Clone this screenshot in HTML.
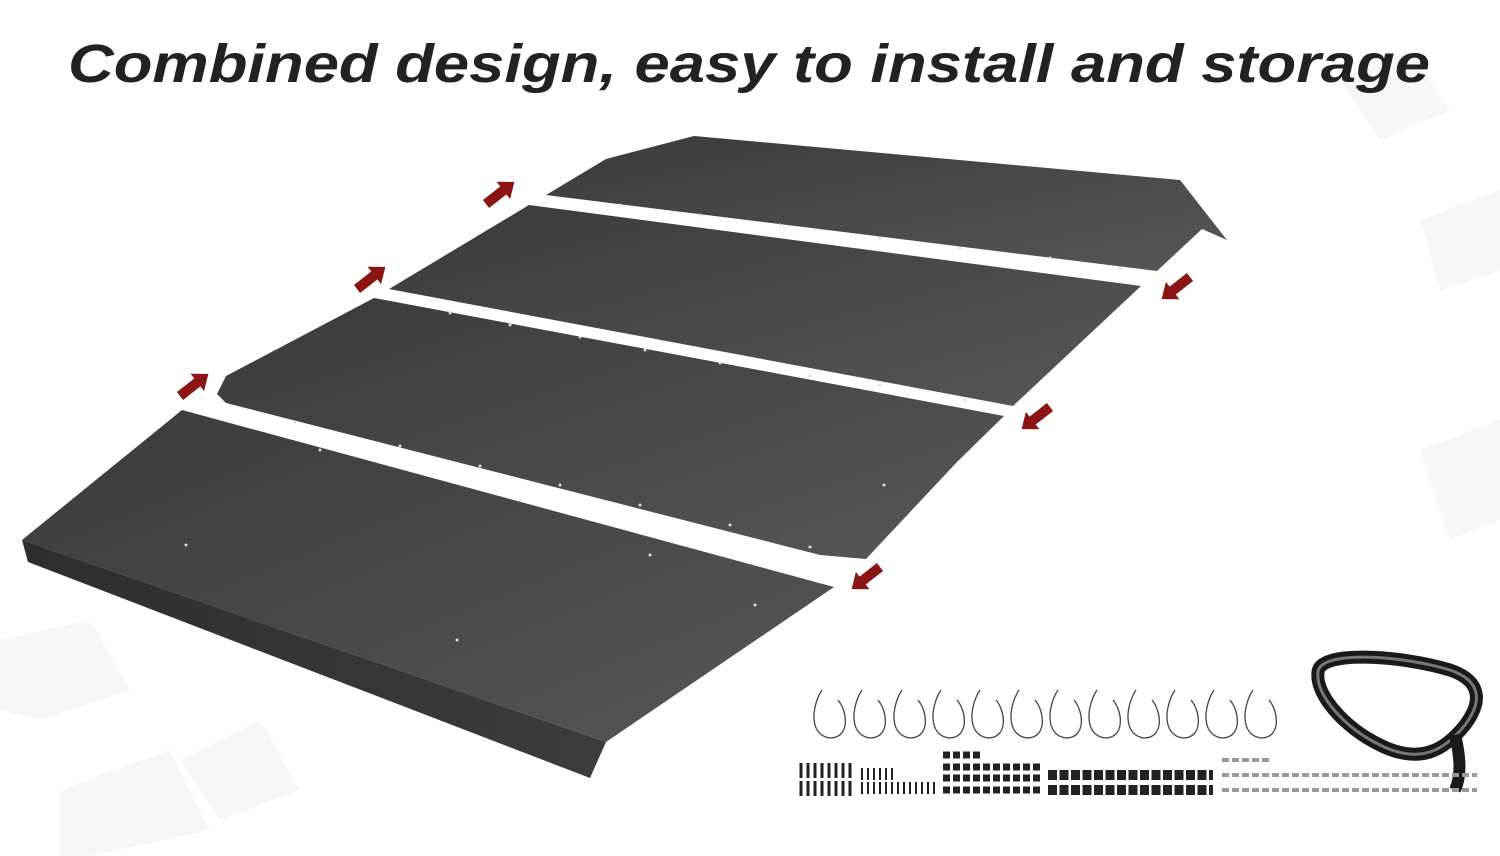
<!DOCTYPE html>
<html><head><meta charset="utf-8"><style>
html,body{margin:0;padding:0;background:#fff;width:1500px;height:856px;overflow:hidden}
</style></head><body>
<svg width="1500" height="856" viewBox="0 0 1500 856" xmlns="http://www.w3.org/2000/svg">
<defs>
<linearGradient id="g" x1="0" y1="0" x2="1" y2="1">
<stop offset="0" stop-color="#3a3a3a"/><stop offset="1" stop-color="#575757"/>
</linearGradient>
<linearGradient id="g2" x1="0" y1="0" x2="1" y2="0">
<stop offset="0" stop-color="#2e2e2e"/><stop offset="1" stop-color="#3c3c3c"/>
</linearGradient>
<g id="arr"><polygon points="0,-5 22,-5 22,-11 36,0 22,11 22,5 0,5" fill="#8b1414"/></g>
</defs>
<rect width="1500" height="856" fill="#fff"/>
<g fill="#f6f6f6">
<polygon points="0,640 90,620 130,690 40,720 0,710"/>
<polygon points="60,790 170,750 210,830 90,856 60,856"/>
<polygon points="180,760 260,720 300,790 220,820"/>
<polygon points="1340,80 1410,50 1450,110 1380,140"/>
<polygon points="1420,220 1500,190 1500,270 1440,290"/>
<polygon points="1420,450 1500,420 1500,520 1450,540"/>
</g>
<text x="749" y="82" text-anchor="middle" font-family="Liberation Sans, sans-serif" font-weight="bold" font-style="italic" font-size="54" fill="#222" textLength="1362" lengthAdjust="spacingAndGlyphs">Combined design, easy to install and storage</text>
<polygon points="694,136 1180,180 1227,240 1202,229 1157,271 546,195 606,159" fill="url(#g)"/>
<polygon points="529,205 1141,286 1013,406 389,289" fill="url(#g)"/>
<polygon points="374,298 1004,416 957,462 866,559 820,555 226,403 217,394 226,376" fill="url(#g)"/>
<polygon points="182,410 834,587 606,742 22,540" fill="url(#g)"/>
<polygon points="22,540 606,742 590,778 28,562" fill="url(#g2)"/>
<g fill="#ddd">
<circle cx="620" cy="205" r="1.5"/><circle cx="700" cy="215" r="1.5"/><circle cx="780" cy="225" r="1.5"/><circle cx="880" cy="238" r="1.5"/><circle cx="960" cy="248" r="1.5"/><circle cx="1050" cy="258" r="1.5"/><circle cx="1120" cy="268" r="1.5"/>
<circle cx="450" cy="313" r="1.5"/><circle cx="510" cy="325" r="1.5"/><circle cx="580" cy="337" r="1.5"/><circle cx="645" cy="350" r="1.5"/><circle cx="720" cy="363" r="1.5"/><circle cx="810" cy="376" r="1.5"/><circle cx="880" cy="385" r="1.5"/><circle cx="965" cy="400" r="1.5"/>
<circle cx="295" cy="422" r="1.5"/><circle cx="400" cy="446" r="1.5"/><circle cx="480" cy="466" r="1.5"/><circle cx="560" cy="485" r="1.5"/><circle cx="640" cy="505" r="1.5"/><circle cx="730" cy="525" r="1.5"/><circle cx="810" cy="547" r="1.5"/><circle cx="884" cy="485" r="1.5"/>
<circle cx="186" cy="545" r="1.5"/><circle cx="457" cy="640" r="1.5"/><circle cx="755" cy="605" r="1.5"/><circle cx="650" cy="555" r="1.5"/><circle cx="320" cy="450" r="1.5"/>
</g>
<use href="#arr" transform="translate(486,204) rotate(-38)"/>
<use href="#arr" transform="translate(357,289) rotate(-38)"/>
<use href="#arr" transform="translate(180,396) rotate(-38)"/>
<use href="#arr" transform="translate(1190,277) rotate(142)"/>
<use href="#arr" transform="translate(1050,407) rotate(142)"/>
<use href="#arr" transform="translate(880,567) rotate(142)"/>
<g fill="none" stroke="#444" stroke-width="1.3">
<path d="M822,690 C812,705 808,735 830,738 C850,738 848,712 838,700"/>
<path d="M862,690 C852,705 848,735 870,738 C890,738 888,712 878,700"/>
<path d="M902,690 C892,705 888,735 910,738 C930,738 928,712 918,700"/>
<path d="M941,690 C931,705 927,735 949,738 C969,738 967,712 957,700"/>
<path d="M980,690 C970,705 966,735 988,738 C1008,738 1006,712 996,700"/>
<path d="M1019,690 C1009,705 1005,735 1027,738 C1047,738 1045,712 1035,700"/>
<path d="M1058,690 C1048,705 1044,735 1066,738 C1086,738 1084,712 1074,700"/>
<path d="M1097,690 C1087,705 1083,735 1105,738 C1125,738 1123,712 1113,700"/>
<path d="M1136,690 C1126,705 1122,735 1144,738 C1164,738 1162,712 1152,700"/>
<path d="M1175,690 C1165,705 1161,735 1183,738 C1203,738 1201,712 1191,700"/>
<path d="M1214,690 C1204,705 1200,735 1222,738 C1242,738 1240,712 1230,700"/>
<path d="M1253,690 C1243,705 1239,735 1261,738 C1281,738 1279,712 1269,700"/>
</g>
<!-- seal loop -->
<path d="M1318,672 C1320,650 1400,655 1450,670 C1485,682 1480,705 1465,725 C1445,750 1420,765 1380,745 C1345,728 1315,695 1318,672 Z" fill="none" stroke="#1a1a1a" stroke-width="13"/>
<path d="M1318,672 C1320,650 1400,655 1450,670 C1485,682 1480,705 1465,725 C1445,750 1420,765 1380,745 C1345,728 1315,695 1318,672 Z" fill="none" stroke="#777" stroke-width="3"/>
<path d="M1455,735 C1460,755 1462,775 1455,790" fill="none" stroke="#1a1a1a" stroke-width="12"/>
<!-- bolts -->
<g stroke="#222" stroke-width="3" fill="none">
<path d="M801,763 v15 M808,763 v15 M815,763 v15 M822,763 v15 M829,763 v15 M836,763 v15 M843,763 v15 M850,763 v15"/>
<path d="M801,781 v15 M808,781 v15 M815,781 v15 M822,781 v15 M829,781 v15 M836,781 v15 M843,781 v15 M850,781 v15"/>
<path d="M862,768 v12 M868,768 v12 M874,768 v12 M880,768 v12 M886,768 v12 M892,768 v12" stroke-width="2"/>
<path d="M862,782 v12 M868,782 v12 M874,782 v12 M880,782 v12 M886,782 v12 M892,782 v12 M898,782 v12 M904,782 v12 M910,782 v12 M916,782 v12 M922,782 v12 M928,782 v12 M934,782 v12" stroke-width="2"/>
</g>
<g fill="none" stroke="#222" stroke-width="2">
<path d="M943,755 h40 M943,767 h100 M943,778 h100 M943,790 h100" stroke-dasharray="7,3" stroke-width="7"/>
<path d="M1048,775 h165 M1048,790 h165" stroke-dasharray="9,2.5" stroke-width="10"/>
</g>
<g fill="none" stroke="#999" stroke-width="4">
<path d="M1222,760 h50 M1222,775 h255 M1222,790 h255" stroke-dasharray="7,3"/>
</g>
</svg>
</body></html>
